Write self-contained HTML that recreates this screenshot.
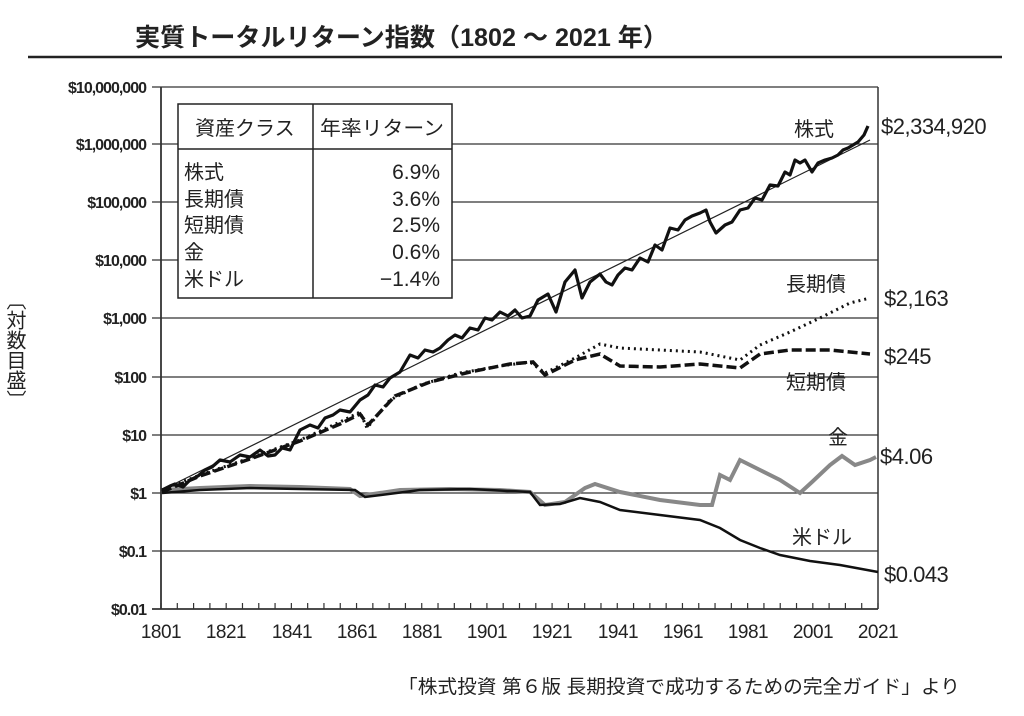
<!DOCTYPE html>
<html><head><meta charset="utf-8"><style>
body{margin:0;background:#fff;}
svg{display:block;font-family:"Liberation Sans","Noto Sans CJK JP",sans-serif;}
</style></head><body>
<svg width="1024" height="716" viewBox="0 0 1024 716">
<text x="135" y="46" font-size="25" font-weight="bold" fill="#222" textLength="533" lengthAdjust="spacingAndGlyphs">実質トータルリターン指数（1802 ～ 2021 年）</text>
<line x1="28" y1="57" x2="1002" y2="57" stroke="#222" stroke-width="2.5"/>
<g stroke="#333" stroke-width="1.2">
<line x1="152" y1="87" x2="878" y2="87"/>
<line x1="152" y1="144" x2="878" y2="144"/>
<line x1="152" y1="202" x2="878" y2="202"/>
<line x1="152" y1="260" x2="878" y2="260"/>
<line x1="152" y1="318" x2="878" y2="318"/>
<line x1="152" y1="377" x2="878" y2="377"/>
<line x1="152" y1="435" x2="878" y2="435"/>
<line x1="152" y1="493" x2="878" y2="493"/>
<line x1="152" y1="551" x2="878" y2="551"/>
<line x1="152" y1="609" x2="878" y2="609" stroke-width="1.8"/>
<line x1="161" y1="87" x2="161" y2="609" stroke-width="1.8"/>
<line x1="878" y1="87" x2="878" y2="609" stroke-width="1.5"/>
</g>
<g stroke="#333" stroke-width="1.2" id="ticks"></g>
<g font-size="16" fill="#222" text-anchor="end" font-weight="bold" letter-spacing="-1">
<text x="146" y="93">$10,000,000</text><text x="146" y="150">$1,000,000</text>
<text x="146" y="208">$100,000</text><text x="146" y="266">$10,000</text>
<text x="146" y="324">$1,000</text><text x="146" y="383">$100</text>
<text x="146" y="441">$10</text><text x="146" y="499">$1</text>
<text x="146" y="557">$0.1</text><text x="146" y="615">$0.01</text>
</g>
<g font-size="19" fill="#222" text-anchor="middle" letter-spacing="-0.5">
<text x="161" y="638">1801</text><text x="226" y="638">1821</text><text x="292" y="638">1841</text>
<text x="357" y="638">1861</text><text x="422" y="638">1881</text><text x="487" y="638">1901</text>
<text x="552" y="638">1921</text><text x="618" y="638">1941</text><text x="683" y="638">1961</text>
<text x="748" y="638">1981</text><text x="813" y="638">2001</text><text x="878" y="638">2021</text>
</g>
<text font-size="20" fill="#222" x="14" y="290" style="writing-mode:vertical-rl">〔対数目盛〕</text>
<rect x="178" y="104" width="274" height="194" fill="#fff" stroke="#222" stroke-width="1.5"/>
<line x1="178" y1="149" x2="452" y2="149" stroke="#222" stroke-width="1.5"/>
<line x1="313" y1="104" x2="313" y2="298" stroke="#222" stroke-width="1.5"/>
<g font-size="20" fill="#222">
<text x="195" y="135">資産クラス</text><text x="320" y="135" textLength="124" lengthAdjust="spacingAndGlyphs">年率リターン</text>
<text x="184" y="179">株式</text><text x="184" y="206">長期債</text><text x="184" y="232">短期債</text>
<text x="184" y="259">金</text><text x="184" y="286">米ドル</text>
</g>
<g font-size="21" fill="#222" text-anchor="end">
<text x="440" y="179">6.9%</text><text x="440" y="206">3.6%</text><text x="440" y="232">2.5%</text>
<text x="440" y="259">0.6%</text><text x="440" y="286">−1.4%</text>
</g>
<line x1="162" y1="490" x2="870" y2="140" stroke="#222" stroke-width="1.2"/>
<polyline fill="none" stroke="#888" stroke-width="4" points="162,490 200,488 250,486 300,487 350,489 360,496 400,490 450,489 500,490 530,492 545,505 565,502 585,488 595,484 620,492 660,500 700,505 712,505 720,475 730,480 740,460 750,465 760,470 780,480 800,493 812,482 830,465 842,456 855,465 870,460 876,457"/>
<polyline fill="none" stroke="#111" stroke-width="2.5" points="162,493 200,490 250,488 300,489 355,490 365,497 420,490 470,489 530,492 540,505 560,504 580,498 600,502 620,510 660,515 700,520 720,528 740,540 760,548 780,555 810,561 840,565 878,572"/>
<polyline fill="none" stroke="#111" stroke-width="3" stroke-dasharray="2,4" points="162,490 200,475 250,458 300,440 340,422 360,412 367,428 390,400 420,385 460,373 500,366 530,362 545,373 575,358 600,344 620,348 660,350 700,352 740,360 760,345 790,332 820,318 850,303 870,298"/>
<polyline fill="none" stroke="#111" stroke-width="3.5" stroke-dasharray="10,4" points="162,492 200,476 250,459 300,441 340,424 360,414 368,425 395,396 430,382 470,372 510,364 533,362 545,375 575,360 600,354 620,366 660,367 700,364 740,368 760,354 790,350 830,350 870,354"/>
<polyline fill="none" stroke="#111" stroke-width="3.2" stroke-linejoin="round" points="162,490 170,486 175,484 183,487 190,480 198,476 205,470 212,467 220,460 230,462 240,455 250,457 260,450 268,456 275,455 282,448 290,450 296,438 300,430 310,425 318,428 325,418 333,415 340,410 350,412 360,400 368,395 375,385 383,387 390,378 400,372 410,355 418,358 425,350 433,352 440,348 448,340 455,335 462,338 470,328 478,330 485,318 492,320 500,312 508,316 515,310 522,318 530,316 538,300 548,294 556,312 565,282 575,270 582,298 590,282 600,274 606,282 612,285 618,275 625,268 632,270 640,258 648,262 655,245 662,250 670,228 678,230 685,220 692,216 700,213 706,210 710,222 716,233 725,225 732,222 740,210 748,208 755,198 762,200 770,185 778,186 785,172 790,175 795,160 800,163 805,160 812,172 818,163 825,160 832,158 838,155 843,150 848,148 853,145 858,142 864,135 868,126"/>
<g font-size="20" fill="#222">
<text x="794" y="136">株式</text><text x="881" y="134" font-size="22" letter-spacing="-0.5">$2,334,920</text>
<text x="786" y="291">長期債</text><text x="884" y="306" font-size="22" letter-spacing="-0.5">$2,163</text>
<text x="884" y="364" font-size="22" letter-spacing="-0.5">$245</text><text x="786" y="389">短期債</text>
<text x="828" y="444">金</text><text x="880" y="464" font-size="22" letter-spacing="-0.5">$4.06</text>
<text x="792" y="544">米ドル</text><text x="884" y="582" font-size="22" letter-spacing="-0.5">$0.043</text>
</g>
<text x="398" y="693" font-size="19" fill="#222" textLength="562" lengthAdjust="spacingAndGlyphs">「株式投資 第６版 長期投資で成功するための完全ガイド」より</text>
</svg>
<script>
var g=document.getElementById('ticks');var s='';
for(var y=1801;y<=2021;y+=5){var x=161+(y-1801)*717/220;s+='<line x1="'+x+'" y1="603" x2="'+x+'" y2="609"/>';}
g.innerHTML=s;
</script>
</body></html>
